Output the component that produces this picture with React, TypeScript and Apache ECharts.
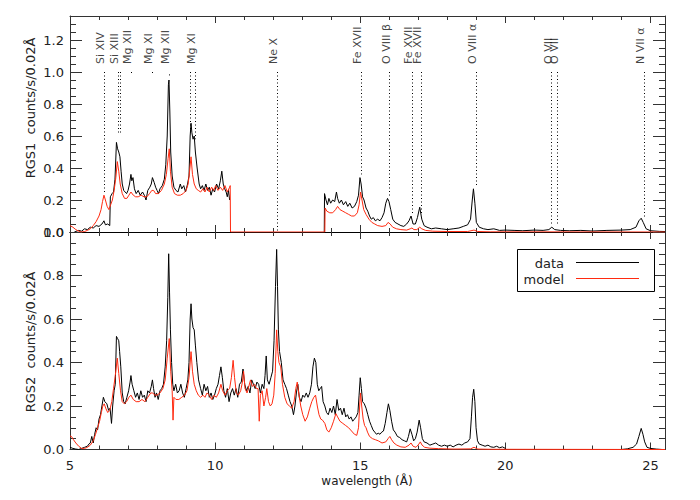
import { useEffect, useRef } from "react";
import * as echarts from "echarts";

const FONT = "DejaVu Sans";
const BLACK = "#000000";
const RED = "#ff2a10";

// x axis (wavelength, Angstrom)
const xMin = 5;
const xMax = 25.5;
const xMajor = 5;
const xTickLabels = ["5", "10", "15", "20", "25"];

// RGS1 (top panel) observed spectrum
const rgs1Data: (number | string)[][] = [
  [5.15, 0.0], [5.3, 0.01], [5.4, 0.005], [5.5, 0.02], [5.6, 0.015], [5.7, 0.03], [5.8, 0.025], [5.9, 0.04], [6.0, 0.035], [6.1, 0.05],
  [6.17, 0.07], [6.22, 0.045], [6.3, 0.05], [6.37, 0.04], [6.39, 0.22], [6.45, 0.24], [6.5, 0.25], [6.55, 0.33], [6.6, 0.56], [6.64, 0.52],
  [6.68, 0.5], [6.72, 0.47], [6.76, 0.38], [6.8, 0.3], [6.85, 0.26], [6.9, 0.25], [6.95, 0.24], [7.0, 0.26], [7.05, 0.3], [7.1, 0.36],
  [7.13, 0.32], [7.17, 0.34], [7.22, 0.27], [7.28, 0.24], [7.35, 0.26], [7.42, 0.23], [7.5, 0.25], [7.56, 0.23], [7.62, 0.2], [7.68, 0.26],
  [7.75, 0.28], [7.8, 0.3], [7.84, 0.34], [7.9, 0.31], [7.95, 0.28], [8.0, 0.26], [8.05, 0.24], [8.1, 0.27], [8.18, 0.29], [8.25, 0.33],
  [8.3, 0.42], [8.35, 0.6], [8.39, 0.92], [8.41, 0.95], [8.44, 0.75], [8.47, 0.5], [8.52, 0.35], [8.58, 0.28], [8.65, 0.26], [8.72, 0.25],
  [8.8, 0.3], [8.85, 0.27], [8.92, 0.29], [8.98, 0.25], [9.05, 0.3], [9.1, 0.35], [9.14, 0.6], [9.17, 0.68], [9.2, 0.62], [9.24, 0.58],
  [9.28, 0.6], [9.32, 0.5], [9.38, 0.4], [9.45, 0.3], [9.5, 0.27], [9.56, 0.29], [9.62, 0.26], [9.68, 0.3], [9.74, 0.26], [9.8, 0.28],
  [9.86, 0.23], [9.92, 0.27], [9.98, 0.25], [10.05, 0.3], [10.12, 0.27], [10.18, 0.32], [10.23, 0.38], [10.28, 0.3], [10.33, 0.27], [10.38, 0.25],
  [10.42, 0.22], [10.46, 0.26], [10.5, 0.2], [12.0, "-"],
  [13.76, 0.0], [13.77, 0.24], [13.82, 0.2], [13.87, 0.17], [13.92, 0.21], [13.98, 0.18], [14.05, 0.2], [14.12, 0.19], [14.18, 0.25], [14.22, 0.21],
  [14.28, 0.18], [14.35, 0.2], [14.42, 0.17], [14.5, 0.19], [14.57, 0.16], [14.64, 0.18], [14.72, 0.15], [14.8, 0.16], [14.88, 0.19], [14.94, 0.23],
  [14.99, 0.34], [15.03, 0.3], [15.08, 0.22], [15.13, 0.2], [15.2, 0.15], [15.26, 0.13], [15.32, 0.1], [15.38, 0.08], [15.45, 0.09], [15.52, 0.07],
  [15.6, 0.08], [15.68, 0.07], [15.75, 0.09], [15.82, 0.12], [15.88, 0.18], [15.94, 0.21], [15.99, 0.19], [16.05, 0.14], [16.12, 0.08], [16.2, 0.06],
  [16.3, 0.05], [16.4, 0.04], [16.5, 0.035], [16.6, 0.05], [16.68, 0.07], [16.75, 0.1], [16.82, 0.05], [16.9, 0.05], [16.97, 0.09], [17.05, 0.155],
  [17.12, 0.08], [17.2, 0.04], [17.3, 0.03], [17.45, 0.02], [17.6, 0.025], [17.8, 0.02], [18.0, 0.015], [18.2, 0.02], [18.4, 0.025], [18.55, 0.035],
  [18.7, 0.045], [18.8, 0.08], [18.86, 0.2], [18.9, 0.27], [18.95, 0.18], [19.0, 0.06], [19.1, 0.03], [19.25, 0.02], [19.4, 0.015], [19.6, 0.02],
  [19.8, 0.01], [20.0, 0.012], [20.3, 0.01], [20.6, 0.008], [21.0, 0.012], [21.3, 0.01], [21.5, 0.015], [21.6, 0.03], [21.7, 0.015], [21.9, 0.01],
  [22.2, 0.008], [22.6, 0.01], [23.0, 0.006], [23.5, 0.01], [24.0, 0.012], [24.3, 0.015], [24.5, 0.03], [24.6, 0.07], [24.68, 0.086], [24.75, 0.06],
  [24.85, 0.02], [25.0, 0.008], [25.3, 0.004], [25.5, 0.003],
];

// RGS1 model
const rgs1Model: number[][] = [
  [5.0, 0.04], [5.1, 0.03], [5.2, 0.015], [5.3, 0.005], [5.4, 0.0], [5.5, 0.003], [5.6, 0.01], [5.7, 0.02], [5.8, 0.04], [5.9, 0.065],
  [6.0, 0.1], [6.07, 0.14], [6.12, 0.19], [6.17, 0.23], [6.22, 0.2], [6.28, 0.16], [6.34, 0.14], [6.4, 0.17], [6.46, 0.2], [6.52, 0.26],
  [6.58, 0.34], [6.63, 0.44], [6.68, 0.38], [6.73, 0.3], [6.8, 0.24], [6.88, 0.21], [6.96, 0.21], [7.03, 0.23], [7.1, 0.25], [7.18, 0.23],
  [7.26, 0.22], [7.35, 0.22], [7.45, 0.23], [7.55, 0.22], [7.65, 0.22], [7.74, 0.24], [7.82, 0.26], [7.88, 0.26], [7.95, 0.24], [8.05, 0.24],
  [8.15, 0.26], [8.25, 0.3], [8.32, 0.36], [8.38, 0.46], [8.42, 0.52], [8.46, 0.38], [8.52, 0.28], [8.6, 0.24], [8.7, 0.23], [8.8, 0.23],
  [8.9, 0.24], [9.0, 0.26], [9.07, 0.3], [9.12, 0.38], [9.17, 0.47], [9.22, 0.36], [9.28, 0.3], [9.35, 0.27], [9.42, 0.26], [9.5, 0.25],
  [9.58, 0.27], [9.65, 0.25], [9.72, 0.28], [9.8, 0.25], [9.88, 0.28], [9.95, 0.26], [10.02, 0.29], [10.1, 0.26], [10.18, 0.28], [10.26, 0.26],
  [10.34, 0.29], [10.42, 0.25], [10.5, 0.28], [10.52, 0.29], [10.53, 0.0], [13.78, 0.0], [13.79, 0.15], [13.85, 0.13], [13.95, 0.12], [14.05, 0.12],
  [14.15, 0.14], [14.22, 0.16], [14.3, 0.14], [14.4, 0.13], [14.5, 0.12], [14.6, 0.11], [14.7, 0.1], [14.8, 0.1], [14.9, 0.12], [14.96, 0.17],
  [15.01, 0.25], [15.06, 0.2], [15.12, 0.14], [15.2, 0.11], [15.3, 0.08], [15.4, 0.06], [15.5, 0.05], [15.6, 0.04], [15.75, 0.035], [15.88, 0.04],
  [15.96, 0.06], [16.03, 0.05], [16.12, 0.03], [16.25, 0.02], [16.4, 0.015], [16.6, 0.012], [16.72, 0.02], [16.78, 0.025], [16.85, 0.015], [16.95, 0.015],
  [17.05, 0.03], [17.12, 0.02], [17.25, 0.01], [17.5, 0.005], [18.0, 0.003], [18.7, 0.003], [18.92, 0.012], [19.05, 0.003], [19.5, 0.001], [25.5, 0.0],
];

// RGS2 (bottom panel) observed spectrum
const rgs2Data: (number | string)[][] = [
  [5.0, 0.01], [5.1, 0.005], [5.2, 0.002], [5.3, 0.0], [5.4, 0.005], [5.5, 0.01], [5.6, 0.015], [5.65, 0.025], [5.7, 0.03], [5.75, 0.06],
  [5.8, 0.03], [5.85, 0.07], [5.9, 0.1], [5.95, 0.09], [6.0, 0.14], [6.05, 0.16], [6.1, 0.2], [6.15, 0.24], [6.2, 0.22], [6.27, 0.21],
  [6.33, 0.18], [6.38, 0.19], [6.43, 0.12], [6.47, 0.2], [6.52, 0.27], [6.56, 0.3], [6.6, 0.52], [6.64, 0.51], [6.68, 0.5], [6.71, 0.45],
  [6.75, 0.38], [6.8, 0.26], [6.85, 0.22], [6.9, 0.21], [6.96, 0.24], [7.02, 0.27], [7.07, 0.31], [7.1, 0.34], [7.14, 0.3], [7.2, 0.27],
  [7.26, 0.24], [7.32, 0.26], [7.38, 0.23], [7.44, 0.27], [7.5, 0.24], [7.56, 0.25], [7.62, 0.22], [7.68, 0.27], [7.74, 0.26], [7.8, 0.29],
  [7.84, 0.32], [7.88, 0.28], [7.93, 0.24], [7.98, 0.26], [8.04, 0.23], [8.1, 0.27], [8.16, 0.28], [8.22, 0.3], [8.28, 0.38], [8.33, 0.5],
  [8.37, 0.7], [8.4, 0.9], [8.43, 0.72], [8.46, 0.55], [8.5, 0.4], [8.54, 0.3], [8.58, 0.27], [8.64, 0.3], [8.7, 0.26], [8.76, 0.27],
  [8.82, 0.3], [8.88, 0.26], [8.94, 0.24], [9.0, 0.28], [9.06, 0.32], [9.1, 0.4], [9.14, 0.6], [9.17, 0.67], [9.2, 0.6], [9.24, 0.56],
  [9.28, 0.55], [9.32, 0.48], [9.37, 0.4], [9.43, 0.32], [9.5, 0.28], [9.56, 0.25], [9.62, 0.3], [9.68, 0.27], [9.74, 0.29], [9.8, 0.24],
  [9.86, 0.26], [9.92, 0.23], [9.98, 0.25], [10.04, 0.28], [10.1, 0.3], [10.15, 0.34], [10.2, 0.38], [10.25, 0.33], [10.3, 0.27], [10.36, 0.24],
  [10.42, 0.28], [10.48, 0.22], [10.54, 0.26], [10.6, 0.28], [10.66, 0.25], [10.72, 0.28], [10.78, 0.24], [10.84, 0.3], [10.9, 0.31], [10.96, 0.37],
  [11.02, 0.3], [11.08, 0.27], [11.14, 0.29], [11.2, 0.26], [11.26, 0.32], [11.32, 0.3], [11.38, 0.28], [11.44, 0.31], [11.5, 0.3], [11.56, 0.26],
  [11.62, 0.3], [11.68, 0.28], [11.72, 0.34], [11.76, 0.43], [11.8, 0.32], [11.86, 0.3], [11.92, 0.33], [11.98, 0.36], [12.03, 0.5], [12.08, 0.75],
  [12.12, 0.92], [12.15, 0.75], [12.18, 0.55], [12.22, 0.45], [12.28, 0.4], [12.34, 0.32], [12.4, 0.3], [12.46, 0.28], [12.52, 0.25], [12.58, 0.22],
  [12.64, 0.2], [12.7, 0.16], [12.75, 0.2], [12.8, 0.26], [12.85, 0.3], [12.9, 0.24], [12.96, 0.22], [13.02, 0.25], [13.08, 0.24], [13.14, 0.26],
  [13.2, 0.24], [13.26, 0.26], [13.32, 0.3], [13.37, 0.38], [13.42, 0.42], [13.47, 0.4], [13.52, 0.3], [13.57, 0.27], [13.62, 0.28], [13.67, 0.29],
  [13.72, 0.22], [13.78, 0.2], [13.84, 0.17], [13.9, 0.16], [13.96, 0.19], [14.02, 0.17], [14.08, 0.2], [14.14, 0.16], [14.2, 0.23], [14.26, 0.18],
  [14.32, 0.19], [14.38, 0.16], [14.44, 0.19], [14.5, 0.15], [14.56, 0.16], [14.62, 0.14], [14.68, 0.15], [14.74, 0.13], [14.8, 0.14], [14.86, 0.15],
  [14.92, 0.17], [14.96, 0.25], [15.0, 0.33], [15.04, 0.28], [15.08, 0.22], [15.14, 0.21], [15.2, 0.19], [15.26, 0.16], [15.32, 0.13], [15.38, 0.11],
  [15.44, 0.09], [15.5, 0.08], [15.56, 0.07], [15.62, 0.075], [15.68, 0.07], [15.74, 0.08], [15.8, 0.085], [15.86, 0.12], [15.92, 0.17], [15.97, 0.21],
  [16.02, 0.18], [16.08, 0.13], [16.14, 0.09], [16.2, 0.08], [16.28, 0.06], [16.36, 0.055], [16.44, 0.045], [16.52, 0.04], [16.6, 0.035], [16.66, 0.06],
  [16.72, 0.095], [16.78, 0.07], [16.84, 0.04], [16.9, 0.05], [16.96, 0.08], [17.03, 0.135], [17.08, 0.1], [17.14, 0.05], [17.2, 0.035], [17.3, 0.03],
  [17.4, 0.02], [17.5, 0.025], [17.6, 0.03], [17.7, 0.02], [17.8, 0.015], [17.9, 0.02], [18.0, 0.015], [18.1, 0.02], [18.2, 0.012], [18.3, 0.02],
  [18.4, 0.025], [18.5, 0.02], [18.6, 0.03], [18.7, 0.035], [18.78, 0.05], [18.83, 0.15], [18.87, 0.24], [18.91, 0.277], [18.95, 0.22], [18.99, 0.1],
  [19.04, 0.04], [19.1, 0.025], [19.2, 0.02], [19.3, 0.015], [19.4, 0.02], [19.5, 0.012], [19.6, 0.01], [19.7, 0.015], [19.8, 0.008], [19.9, 0.012],
  [20.0, 0.005], [20.03, 0.0], [22.0, "-"],
  [24.0, 0.0], [24.2, 0.003], [24.4, 0.01], [24.52, 0.025], [24.6, 0.06], [24.68, 0.097], [24.74, 0.07], [24.8, 0.035], [24.88, 0.01], [25.0, 0.005],
  [25.2, 0.002], [25.4, 0.0],
];

// RGS2 model
const rgs2Model: number[][] = [
  [5.0, 0.062], [5.05, 0.06], [5.12, 0.045], [5.2, 0.03], [5.3, 0.015], [5.4, 0.005], [5.5, 0.005], [5.6, 0.01], [5.7, 0.02], [5.8, 0.04],
  [5.88, 0.07], [5.95, 0.1], [6.02, 0.13], [6.08, 0.17], [6.13, 0.2], [6.18, 0.21], [6.23, 0.19], [6.3, 0.17], [6.37, 0.18], [6.44, 0.22],
  [6.5, 0.28], [6.56, 0.34], [6.63, 0.42], [6.68, 0.35], [6.74, 0.27], [6.8, 0.22], [6.87, 0.21], [6.95, 0.22], [7.03, 0.24], [7.1, 0.25],
  [7.18, 0.23], [7.28, 0.22], [7.38, 0.22], [7.48, 0.23], [7.58, 0.22], [7.68, 0.24], [7.78, 0.26], [7.85, 0.26], [7.92, 0.25], [8.0, 0.25],
  [8.1, 0.26], [8.2, 0.28], [8.28, 0.32], [8.35, 0.42], [8.42, 0.51], [8.47, 0.36], [8.52, 0.27], [8.55, 0.135], [8.58, 0.24], [8.65, 0.23],
  [8.75, 0.23], [8.85, 0.24], [8.95, 0.25], [9.03, 0.27], [9.1, 0.33], [9.17, 0.45], [9.22, 0.36], [9.28, 0.3], [9.35, 0.27], [9.42, 0.25],
  [9.5, 0.24], [9.58, 0.25], [9.65, 0.24], [9.72, 0.26], [9.8, 0.25], [9.88, 0.23], [9.96, 0.25], [10.04, 0.24], [10.12, 0.26], [10.2, 0.3],
  [10.26, 0.27], [10.34, 0.25], [10.42, 0.27], [10.5, 0.28], [10.56, 0.33], [10.62, 0.41], [10.67, 0.33], [10.73, 0.26], [10.8, 0.25], [10.88, 0.27],
  [10.94, 0.31], [10.98, 0.36], [11.03, 0.28], [11.1, 0.26], [11.16, 0.29], [11.22, 0.32], [11.28, 0.29], [11.36, 0.3], [11.42, 0.28], [11.48, 0.28],
  [11.52, 0.13], [11.56, 0.25], [11.62, 0.27], [11.68, 0.2], [11.74, 0.24], [11.78, 0.28], [11.84, 0.22], [11.9, 0.2], [11.96, 0.21], [12.02, 0.25],
  [12.07, 0.35], [12.12, 0.55], [12.16, 0.45], [12.2, 0.4], [12.26, 0.38], [12.32, 0.3], [12.4, 0.24], [12.48, 0.21], [12.56, 0.2], [12.64, 0.19],
  [12.72, 0.22], [12.78, 0.28], [12.83, 0.31], [12.88, 0.26], [12.95, 0.2], [13.02, 0.16], [13.1, 0.13], [13.18, 0.15], [13.26, 0.19], [13.33, 0.22],
  [13.4, 0.24], [13.46, 0.25], [13.52, 0.2], [13.58, 0.16], [13.64, 0.14], [13.7, 0.135], [13.78, 0.12], [13.85, 0.09], [13.92, 0.08], [14.0, 0.1],
  [14.08, 0.13], [14.16, 0.165], [14.22, 0.15], [14.3, 0.13], [14.4, 0.12], [14.5, 0.11], [14.6, 0.1], [14.7, 0.085], [14.8, 0.07], [14.88, 0.065],
  [14.94, 0.1], [14.98, 0.2], [15.01, 0.26], [15.05, 0.2], [15.1, 0.14], [15.15, 0.11], [15.2, 0.1], [15.25, 0.08], [15.32, 0.06], [15.42, 0.05],
  [15.52, 0.045], [15.62, 0.04], [15.75, 0.03], [15.88, 0.035], [15.96, 0.05], [16.02, 0.06], [16.08, 0.045], [16.16, 0.03], [16.26, 0.02], [16.4, 0.012],
  [16.55, 0.01], [16.68, 0.02], [16.75, 0.03], [16.82, 0.015], [16.92, 0.01], [17.02, 0.025], [17.07, 0.035], [17.13, 0.02], [17.22, 0.01], [17.4, 0.006],
  [17.7, 0.004], [18.2, 0.002], [18.8, 0.003], [18.92, 0.01], [19.05, 0.002], [19.5, 0.001], [25.5, 0.0],
];

// Line identifications (top panel)
const lineIdLabels = ["Si XIV", "Si XIII", "Mg XII", "Mg XI", "Mg XII", "Mg XI", "Ne X", "Fe XVII", "O VIII β", "Fe XVII", "Fe XVII", "O VIII α", "O VII", "O VII", "N VII α"];
const lineIdLabelWave = [6.17, 6.66, 7.1, 7.84, 8.41, 9.31, 12.13, 15.02, 16.01, 16.78, 17.1, 18.98, 21.59, 21.8, 24.79];
const lineMarkWave = [6.17, 6.66, 6.74, 7.1, 7.84, 8.41, 9.16, 9.31, 12.13, 15.02, 16.01, 16.78, 17.1, 18.98, 21.59, 21.8, 24.79];
const lineMarkTop = [1.0, 1.0, 1.0, 1.0, 1.0, 0.985, 1.0, 1.0, 1.0, 1.0, 1.0, 1.0, 1.0, 1.0, 1.0, 1.0, 1.0];
const lineMarkBottom = [0.25, 0.61, 0.61, 0.99, 0.99, 0.975, 0.62, 0.58, 0.0, 0.36, 0.22, 0.11, 0.11, 0.28, 0.045, 0.045, 0.09];
const lineLabelBase = 1.05;

const legendNames = ["data", "model"];

const AXIS_COLOR = "#333";
const TEXT_COLOR = "#222";

function isMultiple(v: number, step: number) {
  const r = v / step;
  return Math.abs(r - Math.round(r)) < 1e-6;
}

export default function App() {
  const ref = useRef<HTMLDivElement>(null);

  useEffect(() => {
    if (!ref.current) return;
    const chart = echarts.init(ref.current, undefined, { renderer: "svg" });

    const gridTop = { left: 70, top: 16, width: 595, height: 216 };
    const gridBot = { left: 70, top: 232, width: 595, height: 217.5 };

    const makeX = (gridIndex: number, position: "top" | "bottom", showLabel: boolean, lineColor: string) => ({
      type: "value",
      gridIndex,
      position,
      min: xMin,
      max: xMax,
      interval: xMajor,
      axisLine: { show: true, onZero: false, lineStyle: { color: lineColor, width: 1 } },
      axisTick: { show: true, inside: true, length: 7, lineStyle: { color: AXIS_COLOR } },
      minorTick: { show: true, splitNumber: 5, length: 4, lineStyle: { color: AXIS_COLOR } },
      splitLine: { show: false },
      axisLabel: {
        show: showLabel,
        margin: 9,
        color: TEXT_COLOR,
        fontFamily: FONT,
        fontSize: 13,
        formatter: (v: number) => (isMultiple(v, xMajor) ? xTickLabels[Math.round((v - xMin) / xMajor)] ?? "" : ""),
      },
    });

    const makeY = (gridIndex: number, position: "left" | "right", max: number, showLabel: boolean) => ({
      type: "value",
      gridIndex,
      position,
      min: 0,
      max,
      interval: 0.2,
      axisLine: { show: true, onZero: false, lineStyle: { color: AXIS_COLOR, width: 1 } },
      axisTick: { show: true, inside: true, length: 12, lineStyle: { color: AXIS_COLOR } },
      minorTick: { show: true, splitNumber: 4, length: 6, lineStyle: { color: AXIS_COLOR } },
      splitLine: { show: false },
      axisLabel: {
        show: showLabel,
        margin: 6,
        color: TEXT_COLOR,
        fontFamily: FONT,
        fontSize: 13,
        formatter: (v: number) => (isMultiple(v, 0.2) ? v.toFixed(1) : ""),
      },
    });

    const markLineData = lineMarkWave.map((w, i) => [
      { coord: [w, lineMarkTop[i]] },
      { coord: [w, lineMarkBottom[i]] },
    ]);

    const labelOffsetWave = 3.5 / 29;
    const lineLabelData = lineIdLabels.map((name, i) => ({
      name,
      value: [lineIdLabelWave[i] - labelOffsetWave, lineLabelBase],
    }));

    const option: any = {
      animation: false,
      backgroundColor: "#ffffff",
      grid: [gridTop, gridBot],
      xAxis: [
        makeX(0, "bottom", false, "#000"),
        makeX(0, "top", false, AXIS_COLOR),
        makeX(1, "bottom", true, AXIS_COLOR),
        makeX(1, "top", false, "#000"),
      ],
      yAxis: [
        makeY(0, "left", 1.35, true),
        makeY(0, "right", 1.35, false),
        makeY(1, "left", 1.0, true),
        makeY(1, "right", 1.0, false),
      ],
      series: [
        {
          name: "rgs1-data",
          type: "line",
          xAxisIndex: 0,
          yAxisIndex: 0,
          data: rgs1Data,
          showSymbol: false,
          connectNulls: false,
          lineStyle: { color: BLACK, width: 1 },
          itemStyle: { color: BLACK },
          z: 3,
          markLine: {
            silent: true,
            symbol: ["none", "none"],
            label: { show: false },
            lineStyle: { color: "#000", width: 1, type: [1, 2.5] },
            data: markLineData,
          },
        },
        {
          name: "rgs1-model",
          type: "line",
          xAxisIndex: 0,
          yAxisIndex: 0,
          data: rgs1Model,
          showSymbol: false,
          lineStyle: { color: RED, width: 1 },
          itemStyle: { color: RED },
          z: 4,
        },
        {
          name: "line-ids",
          type: "scatter",
          xAxisIndex: 0,
          yAxisIndex: 0,
          symbolSize: 0,
          data: lineLabelData,
          silent: true,
          label: {
            show: true,
            position: "inside",
            formatter: "{b}",
            rotate: 90,
            align: "left",
            verticalAlign: "middle",
            color: "#111",
            fontFamily: FONT,
            fontSize: 11,
          },
        },
        {
          name: "rgs2-data",
          type: "line",
          xAxisIndex: 2,
          yAxisIndex: 2,
          data: rgs2Data,
          showSymbol: false,
          connectNulls: false,
          lineStyle: { color: BLACK, width: 1 },
          itemStyle: { color: BLACK },
          z: 3,
        },
        {
          name: "rgs2-model",
          type: "line",
          xAxisIndex: 2,
          yAxisIndex: 2,
          data: rgs2Model,
          showSymbol: false,
          lineStyle: { color: RED, width: 1 },
          itemStyle: { color: RED },
          z: 4,
        },
      ],
      graphic: [
        {
          type: "text",
          x: 30,
          y: 108,
          rotation: Math.PI / 2,
          style: { text: "RGS1  counts/s/0.02Å", align: "center", verticalAlign: "middle", fill: TEXT_COLOR, fontFamily: FONT, fontSize: 13 },
        },
        {
          type: "text",
          x: 30,
          y: 342,
          rotation: Math.PI / 2,
          style: { text: "RGS2  counts/s/0.02Å", align: "center", verticalAlign: "middle", fill: TEXT_COLOR, fontFamily: FONT, fontSize: 13 },
        },
        {
          type: "text",
          x: 367,
          y: 481,
          style: { text: "wavelength (Å)", align: "center", verticalAlign: "middle", fill: TEXT_COLOR, fontFamily: FONT, fontSize: 12 },
        },
        {
          type: "rect",
          shape: { x: 517.5, y: 249.5, width: 137, height: 42 },
          style: { fill: "#fff", stroke: "#000", lineWidth: 1 },
          z: 10,
        },
        {
          type: "text",
          x: 564,
          y: 263,
          z: 11,
          style: { text: legendNames[0], align: "right", verticalAlign: "middle", fill: TEXT_COLOR, fontFamily: FONT, fontSize: 13 },
        },
        {
          type: "line",
          z: 11,
          shape: { x1: 576, y1: 262.5, x2: 639, y2: 262.5 },
          style: { stroke: BLACK, lineWidth: 1 },
        },
        {
          type: "text",
          x: 564,
          y: 279,
          z: 11,
          style: { text: legendNames[1], align: "right", verticalAlign: "middle", fill: TEXT_COLOR, fontFamily: FONT, fontSize: 13 },
        },
        {
          type: "line",
          z: 11,
          shape: { x1: 576, y1: 278.5, x2: 639, y2: 278.5 },
          style: { stroke: RED, lineWidth: 1 },
        },
      ],
    };

    chart.setOption(option);
    return () => chart.dispose();
  }, []);

  return <div ref={ref} style={{ width: 700, height: 500, position: "absolute", left: 0, top: 0, background: "#fff" }} />;
}
